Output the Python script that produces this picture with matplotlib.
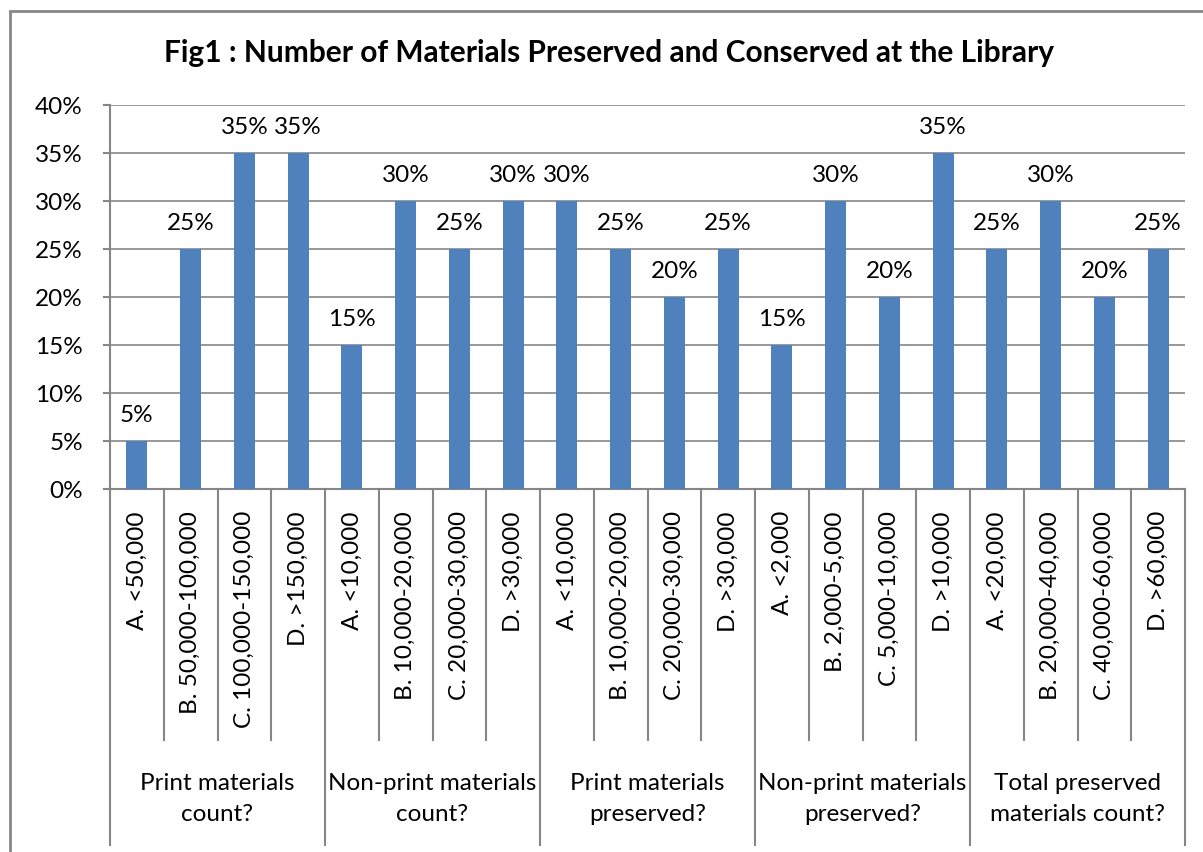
import matplotlib.pyplot as plt
from matplotlib.patches import Rectangle
from matplotlib.lines import Line2D
from matplotlib.transforms import blended_transform_factory

# survey answers, four options per question
groups = ["Print materials\ncount?", "Non-print materials\ncount?",
          "Print materials\npreserved?", "Non-print materials\npreserved?",
          "Total preserved\nmaterials count?"]
options = [
    "A. <50,000", "B. 50,000-100,000", "C. 100,000-150,000", "D. >150,000",
    "A. <10,000", "B. 10,000-20,000", "C. 20,000-30,000", "D. >30,000",
    "A. <10,000", "B. 10,000-20,000", "C. 20,000-30,000", "D. >30,000",
    "A. <2,000", "B. 2,000-5,000", "C. 5,000-10,000", "D. >10,000",
    "A. <20,000", "B. 20,000-40,000", "C. 40,000-60,000", "D. >60,000",
]
percent = [5, 25, 35, 35,
           15, 30, 25, 30,
           30, 25, 20, 25,
           15, 30, 20, 35,
           25, 30, 20, 25]

plt.rcParams['font.family'] = ['Lato', 'DejaVu Sans']
bar_color = "#4F81BD"
line_gray = "#868686"
fs = 17.5

fig = plt.figure(figsize=(12.03, 8.52), dpi=100)
W, H = 1203, 852

# outer chart frame
fig.patches.append(Rectangle((10 / W, -0.1), 1.1, 1 - 11 / H + 0.1,
                             transform=fig.transFigure, fill=False,
                             edgecolor=line_gray, linewidth=2))

fig.text(609 / W, 1 - 53 / H,
         "Fig1 : Number of Materials Preserved and Conserved at the Library",
         ha="center", va="center", fontsize=21.5, fontweight="bold")

ax = fig.add_axes([110 / W, 1 - 489 / H, 1075 / W, 384 / H])

x = list(range(len(percent)))
ax.bar(x, percent, width=0.39, color=bar_color, zorder=3)
for xi, v in zip(x, percent):
    ax.text(xi, v + 2.7, f"{v}%", ha="center", va="center", fontsize=fs)

ax.set_xlim(-0.5, len(percent) - 0.5)
ax.set_ylim(0, 40)
ax.set_yticks(range(0, 41, 5))
ax.set_yticklabels([f"{t}%" for t in range(0, 41, 5)], fontsize=fs)
ax.yaxis.grid(True, color=line_gray, linewidth=1.2, zorder=0)
ax.set_axisbelow(True)
ax.tick_params(axis="y", length=5, color=line_gray, width=1.5, pad=14.5)
ax.set_xticks([])

for s in ["top", "right"]:
    ax.spines[s].set_visible(False)
for s in ["left", "bottom"]:
    ax.spines[s].set_color(line_gray)
    ax.spines[s].set_linewidth(1.5)

trans = blended_transform_factory(ax.transData, ax.transAxes)
inner_bottom = (489 - 740) / 384
outer_bottom = (489 - 845) / 384

# option labels, rotated
for xi, lab in zip(x, options):
    ax.text(xi, (489 - 511) / 384, lab, rotation=90, ha="center", va="top",
            fontsize=fs, transform=trans)

# separators between options and question groups
for b in range(len(percent) + 1):
    y0 = outer_bottom if b % 4 == 0 else inner_bottom
    ax.add_line(Line2D([b - 0.5, b - 0.5], [0, y0], transform=trans,
                       color=line_gray, linewidth=1.5, clip_on=False))

for g, name in enumerate(groups):
    ax.text(g * 4 + 1.5, (489 - 799) / 384, name, ha="center", va="center",
            fontsize=fs, linespacing=1.6, transform=trans)

fig.savefig("out.png", dpi=100)
